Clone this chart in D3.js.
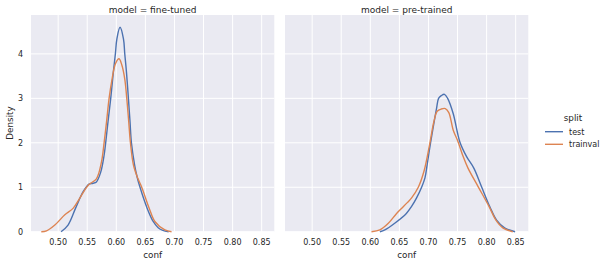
<!DOCTYPE html>
<html>
<head>
<meta charset="utf-8">
<script src="https://cdn.jsdelivr.net/npm/d3@7"></script>
<style>
  body { margin: 0; background: #fff; }
  svg { display: block; font-family: "DejaVu Sans", sans-serif; }
</style>
</head>
<body>
<svg id="chart" width="609" height="265"></svg>
<script>
// facet titles, legend entries, ticks
const models = ["fine-tuned", "pre-trained"];
const splits = ["test", "trainval"];
const splitColors = ["#4c72b0", "#dd8452"];
const xTicks = [0.50, 0.55, 0.60, 0.65, 0.70, 0.75, 0.80, 0.85];
const yTicks = [0, 1, 2, 3, 4];

// KDE curves: [conf, density]
const fineTunedTest = [
  [0.505, 0], [0.517, 0.15], [0.530, 0.53], [0.543, 0.90], [0.553, 1.07],
  [0.560, 1.09], [0.5658, 1.12], [0.5732, 1.34], [0.579, 1.72], [0.5817, 2.0],
  [0.5857, 2.47], [0.5904, 3.0], [0.595, 3.6], [0.5985, 4.01], [0.601, 4.34],
  [0.6064, 4.6], [0.6123, 4.34], [0.6145, 4.01], [0.6174, 3.6], [0.6208, 3.0],
  [0.6236, 2.47], [0.626, 2.0], [0.6315, 1.5], [0.636, 1.22], [0.6405, 1.01],
  [0.653, 0.53], [0.6634, 0.23], [0.672, 0.09], [0.68, 0.03], [0.69, 0]
];
const fineTunedTrainval = [
  [0.471, 0], [0.480, 0.02], [0.4943, 0.15], [0.5115, 0.38], [0.526, 0.53],
  [0.537, 0.75], [0.552, 1.05], [0.5658, 1.19], [0.5745, 1.57], [0.579, 2.0],
  [0.5832, 2.47], [0.5876, 3.0], [0.5928, 3.44], [0.5985, 3.78], [0.6047, 3.89],
  [0.6095, 3.75], [0.6145, 3.44], [0.618, 3.0], [0.6214, 2.47], [0.6243, 2.0],
  [0.6295, 1.5], [0.637, 1.2], [0.6434, 1.01], [0.6565, 0.53], [0.6663, 0.23],
  [0.6835, 0.04], [0.695, 0]
];
const preTrainedTest = [
  [0.6165, 0], [0.625, 0.04], [0.642, 0.19], [0.662, 0.41], [0.671, 0.57],
  [0.6796, 0.76], [0.6882, 1.0], [0.694, 1.21], [0.6978, 1.51], [0.7036, 2.0],
  [0.7099, 2.48], [0.714, 2.78], [0.7174, 3.0], [0.722, 3.06], [0.7275, 3.09],
  [0.733, 3.0], [0.7425, 2.66], [0.754, 2.02], [0.7656, 1.69], [0.778, 1.43],
  [0.7913, 1.01], [0.8056, 0.56], [0.8172, 0.26], [0.8315, 0.08], [0.849, 0]
];
const preTrainedTrainval = [
  [0.602, 0], [0.6165, 0.04], [0.631, 0.19], [0.6452, 0.41], [0.6566, 0.56],
  [0.664, 0.66], [0.671, 0.76], [0.6825, 1.0], [0.6923, 1.36], [0.7025, 2.0],
  [0.7094, 2.48], [0.715, 2.71], [0.722, 2.76], [0.729, 2.77], [0.735, 2.68],
  [0.7425, 2.29], [0.751, 2.02], [0.7597, 1.69], [0.768, 1.43], [0.7856, 1.01],
  [0.8045, 0.56], [0.816, 0.26], [0.8285, 0.08], [0.845, 0]
];
const curves = [[fineTunedTest, fineTunedTrainval], [preTrainedTest, preTrainedTrainval]];

const svg = d3.select("#chart");
const panelLeft = [31, 285];
const panelW = 243.3, plotTop = 15, plotBottom = 231.7;

const x0 = d3.scaleLinear().domain([0.4533, 0.8717]).range([0, panelW]);
const y = d3.scaleLinear().domain([0, 4.875]).range([plotBottom, plotTop]);

const line = d3.line()
  .x(d => x0(d[0]))
  .y(d => y(d[1]))
  .curve(d3.curveCatmullRom.alpha(0.5));

models.forEach((m, i) => {
  const g = svg.append("g").attr("transform", `translate(${panelLeft[i]},0)`);

  g.append("rect")
    .attr("x", 0).attr("y", plotTop)
    .attr("width", panelW).attr("height", plotBottom - plotTop)
    .attr("fill", "#eaeaf2");

  // grid
  g.selectAll(".gx").data(xTicks).join("line")
    .attr("x1", d => x0(d)).attr("x2", d => x0(d))
    .attr("y1", plotTop).attr("y2", plotBottom)
    .attr("stroke", "#fff").attr("stroke-width", 1);
  g.selectAll(".gy").data(yTicks).join("line")
    .attr("x1", 0).attr("x2", panelW)
    .attr("y1", d => y(d)).attr("y2", d => y(d))
    .attr("stroke", "#fff").attr("stroke-width", 1);

  // x tick labels
  g.selectAll(".tx").data(xTicks).join("text")
    .attr("x", d => x0(d)).attr("y", 245)
    .attr("text-anchor", "middle")
    .attr("font-size", 8).attr("fill", "#262626")
    .text(d => d3.format(".2f")(d));

  g.append("text")
    .attr("x", panelW / 2).attr("y", 258)
    .attr("text-anchor", "middle")
    .attr("font-size", 8.8).attr("fill", "#262626")
    .text("conf");

  g.append("text")
    .attr("x", panelW / 2).attr("y", 12.5)
    .attr("text-anchor", "middle")
    .attr("font-size", 9).attr("fill", "#262626")
    .text("model = " + m);

  curves[i].forEach((c, k) => {
    g.append("path")
      .datum(c)
      .attr("d", line)
      .attr("fill", "none")
      .attr("stroke", splitColors[k])
      .attr("stroke-width", 1.4)
      .attr("stroke-linejoin", "round");
  });

  if (i === 0) {
    g.selectAll(".ty").data(yTicks).join("text")
      .attr("x", -8).attr("y", d => y(d) + 3)
      .attr("text-anchor", "end")
      .attr("font-size", 8).attr("fill", "#262626")
      .text(d => d);
  }
});

svg.append("text")
  .attr("transform", "translate(13,123) rotate(-90)")
  .attr("text-anchor", "middle")
  .attr("font-size", 8.8).attr("fill", "#262626")
  .text("Density");

// legend
const legend = svg.append("g");
legend.append("text")
  .attr("x", 573).attr("y", 121)
  .attr("text-anchor", "middle")
  .attr("font-size", 8.8).attr("fill", "#262626")
  .text("split");
splits.forEach((s, k) => {
  const ly = 131.7 + k * 12.6;
  legend.append("line")
    .attr("x1", 545).attr("x2", 563)
    .attr("y1", ly).attr("y2", ly)
    .attr("stroke", splitColors[k]).attr("stroke-width", 1.4);
  legend.append("text")
    .attr("x", 569).attr("y", ly + 3)
    .attr("font-size", 8).attr("fill", "#262626")
    .text(s);
});
</script>
</body>
</html>
